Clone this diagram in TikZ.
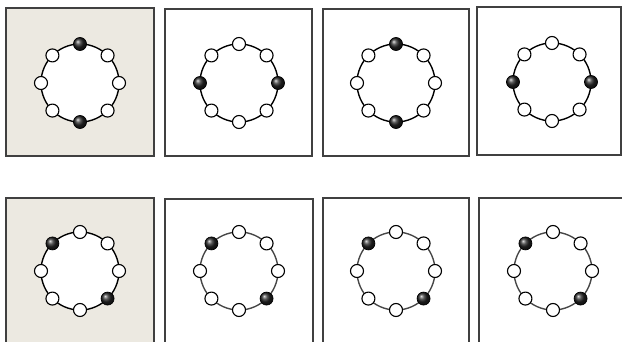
\documentclass[tikz,border=0pt]{standalone}
\definecolor{bgbeige}{HTML}{ECE9E1}
\tikzset{
  frame/.style={draw=black!75, line width=1.2pt},
  ring/.style={line width=1.4pt, fill=white},
  wnode/.style={circle, draw=black, fill=white, line width=1.1pt, minimum size=13pt, inner sep=0pt},
  dnode/.style={circle, draw=black, line width=0.7pt, ball color=black!85, minimum size=13pt, inner sep=0pt},
}
\begin{document}
\begin{tikzpicture}[x=1pt,y=-1pt]
\clip (0,0) rectangle (622,342);
\useasboundingbox (0,0) rectangle (622,342);
\foreach \n/\xa/\ya/\xb/\yb/\cx/\cy/\bg/\rc/\da/\db in {
  pa/6/8/154/156/80/83/bgbeige/black/90/270,
  pb/165/9/312/156/239/83/white/black/180/0,
  pc/323/9/469/156/396/83/white/black/90/270,
  pd/477/7/621/155/552/82/white/black/180/0,
  pe/6/198/154/360/80/271/bgbeige/black/135/315,
  pf/165/199/313/360/239/271/white/black!72/135/315,
  pg/323/198/469/360/396/271/white/black!72/135/315,
  ph/479/198/630/360/553/271/white/black!72/135/315}{
  \draw[frame, fill=\bg] (\xa,\ya) rectangle (\xb,\yb);
  \coordinate (\n c) at (\cx,\cy);
  \draw[ring, draw=\rc] (\n c) circle (39pt);
  \foreach \k in {0,...,7}{
    \pgfmathtruncatemacro\ang{mod(90+45*\k,360)}
    \ifnum\ang=\da
      \node[dnode] (\n k\k) at ([shift={(\ang:39pt)}]\n c) {};
    \else\ifnum\ang=\db
      \node[dnode] (\n k\k) at ([shift={(\ang:39pt)}]\n c) {};
    \else
      \node[wnode] (\n k\k) at ([shift={(\ang:39pt)}]\n c) {};
    \fi\fi
  }
}
\end{tikzpicture}
\end{document}
